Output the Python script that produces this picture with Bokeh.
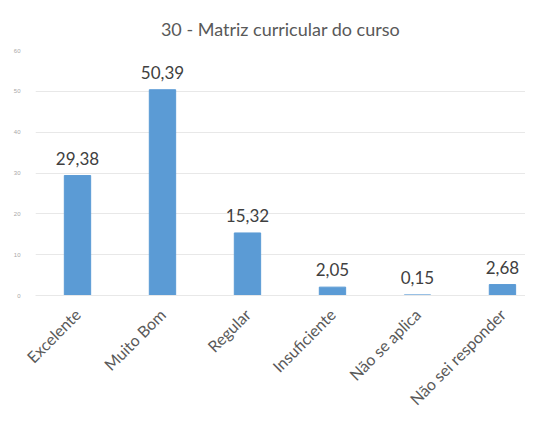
import math
from bokeh.plotting import figure
from bokeh.models import ColumnDataSource, Range1d, FixedTicker, Title
from bokeh.core.properties import value
from bokeh.embed import file_html
from bokeh.resources import INLINE

categories = ["Excelente", "Muito Bom", "Regular", "Insuficiente", "Não se aplica", "Não sei responder"]
values = [29.38, 50.39, 15.32, 2.05, 0.15, 2.68]
y_ticks = [0, 10, 20, 30, 40, 50, 60]

labels = [f"{v:.2f}".replace(".", ",") for v in values]
xs = list(range(len(categories)))
src = ColumnDataSource(dict(x=xs, top=values, label=labels))

p = figure(width=525, height=420, output_backend="svg", toolbar_location=None,
           x_range=Range1d(-0.494, 5.271), y_range=Range1d(0, 60),
           min_border_left=35, min_border_right=0, min_border_top=50, min_border_bottom=125)
p.title = Title(text="30 - Matriz curricular do curso", align="center",
                text_font="Lato", text_font_size="18px", text_font_style="normal",
                text_color="#595959", offset=0)
p.title.standoff = 22

p.vbar(x="x", top="top", width=0.31, bottom=0, source=src, color="#5B9BD5")
p.text(x="x", y="top", text="label", source=src, text_align="center", text_baseline="bottom",
       y_offset=-11, text_font=value("Lato"), text_font_size="17px", text_color="#404040")

p.outline_line_color = None
p.xgrid.grid_line_color = None
p.ygrid.grid_line_color = "#e8e8e8"
p.yaxis.ticker = FixedTicker(ticks=y_ticks)
p.yaxis.axis_line_color = None
p.yaxis.major_tick_line_color = None
p.yaxis.minor_tick_line_color = None
p.yaxis.major_label_text_font_size = "6px"
p.yaxis.major_label_text_color = "#a8a8a8"
p.yaxis.major_label_standoff = 9

p.xaxis.ticker = FixedTicker(ticks=xs)
p.xaxis.major_label_overrides = {i: c for i, c in zip(xs, categories)}
p.xaxis.major_label_orientation = math.pi / 4
p.xaxis.axis_line_color = "#e8e8e8"
p.xaxis.major_tick_line_color = None
p.xaxis.minor_tick_line_color = None
p.xaxis.major_label_text_font = "Lato"
p.xaxis.major_label_text_font_size = "16px"
p.xaxis.major_label_text_color = "#595959"
p.xaxis.major_label_standoff = 10

open("out.html", "w").write(file_html(p, INLINE))
